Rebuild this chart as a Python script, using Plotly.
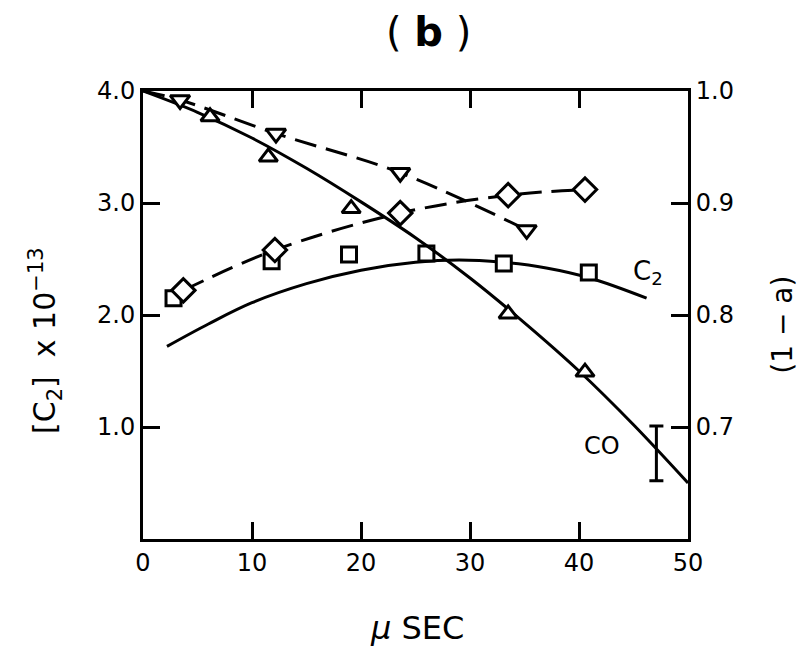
import plotly.graph_objects as go

# ---- data ----
# C2 concentration (left axis, units of 1e13)
c2_sq_x = [2.8, 11.8, 18.9, 26.0, 33.1, 40.9]
c2_sq_y = [2.15, 2.48, 2.54, 2.55, 2.46, 2.38]
c2_fit_x = [2.2, 6.0, 10.0, 15.0, 20.0, 25.0, 29.0, 33.0, 37.0, 41.0, 46.2]
c2_fit_y = [1.72, 1.92, 2.11, 2.28, 2.40, 2.47, 2.49, 2.47, 2.42, 2.33, 2.15]
dia_x = [3.7, 12.1, 23.6, 33.5, 40.55]
dia_y = [2.22, 2.58, 2.91, 3.07, 3.12]

# (1 - a) (right axis)
tri_up_x = [6.15, 11.5, 19.1, 33.5, 40.55]
tri_up_y = [0.977, 0.941, 0.895, 0.801, 0.749]
tri_dn_x = [3.4, 12.2, 23.6, 35.2]
tri_dn_y = [0.992, 0.962, 0.927, 0.876]
tri_dn_line_x = [0.0, 3.4, 12.2, 23.6, 35.2]
tri_dn_line_y = [1.0, 0.992, 0.962, 0.927, 0.876]
co_fit_x = [0, 5, 10, 15, 20, 25, 30, 35, 40, 45, 50]
co_fit_y = [1.0, 0.981, 0.958, 0.931, 0.901, 0.869, 0.833, 0.793, 0.750, 0.702, 0.650]
err_x = [47.1]
err_y = [0.6765]
err_half = [0.0245]

x_ticks = [0, 10, 20, 30, 40, 50]
y_ticks = [1.0, 2.0, 3.0, 4.0]
y2_ticks = [0.7, 0.8, 0.9, 1.0]

FONT = "DejaVu Sans"
BLACK = "black"
DASH = "22px,10px"


def hollow(symbol, size):
    return dict(symbol=symbol, size=size, color="white", line=dict(width=3, color=BLACK))


fig = go.Figure()

# solid C2 fit
fig.add_trace(go.Scatter(x=c2_fit_x, y=c2_fit_y, mode="lines",
                         line=dict(color=BLACK, width=3, shape="spline"), showlegend=False))
# CO (1-a) on right axis
fig.add_trace(go.Scatter(x=co_fit_x, y=co_fit_y, mode="lines", yaxis="y2",
                         line=dict(color=BLACK, width=3, shape="spline"), showlegend=False))
# dashed through diamonds
fig.add_trace(go.Scatter(x=dia_x, y=dia_y, mode="lines",
                         line=dict(color=BLACK, width=3, dash=DASH, shape="spline"), showlegend=False))
fig.add_trace(go.Scatter(x=tri_dn_line_x, y=tri_dn_line_y, mode="lines", yaxis="y2",
                         line=dict(color=BLACK, width=3, dash=DASH, shape="spline"), showlegend=False))

fig.add_trace(go.Scatter(x=c2_sq_x, y=c2_sq_y, mode="markers",
                         marker=hollow("square", 15), showlegend=False))
fig.add_trace(go.Scatter(x=dia_x, y=dia_y, mode="markers",
                         marker=hollow("diamond", 18), showlegend=False))
fig.add_trace(go.Scatter(x=tri_dn_x, y=tri_dn_y, mode="markers", yaxis="y2",
                         marker=hollow("triangle-down", 17), showlegend=False))
fig.add_trace(go.Scatter(x=tri_up_x, y=tri_up_y, mode="markers", yaxis="y2",
                         marker=hollow("triangle-up", 16), showlegend=False))
fig.add_trace(go.Scatter(x=err_x, y=err_y, mode="markers", yaxis="y2",
                         marker=dict(size=1, color="rgba(0,0,0,0)"),
                         error_y=dict(type="data", array=err_half, color=BLACK, thickness=3, width=7),
                         showlegend=False))

axis_common = dict(showgrid=False, zeroline=False, showline=True, linecolor=BLACK, linewidth=3,
                   ticks="inside", ticklen=17, tickwidth=3, tickcolor=BLACK,
                   tickfont=dict(family=FONT, size=24, color=BLACK))

fig.update_layout(
    width=800, height=652,
    margin=dict(l=143, r=112, t=91, b=113),
    paper_bgcolor="white", plot_bgcolor="white",
    xaxis=dict(range=[0, 50], tickvals=x_ticks, ticktext=[str(v) for v in x_ticks],
               mirror="ticks", **axis_common),
    yaxis=dict(range=[0, 4], tickvals=y_ticks, ticktext=[f"{v:.1f}" for v in y_ticks],
               mirror="ticks", **axis_common),
    yaxis2=dict(range=[0.6, 1.0], tickvals=y2_ticks, ticktext=[f"{v:.1f}" for v in y2_ticks],
                overlaying="y", side="right", **axis_common),
    showlegend=False,
)

ann_font = dict(family=FONT, color=BLACK)
fig.add_annotation(text="(\u00a0<b>b</b>\u00a0)", xref="paper", yref="paper", x=0.523, y=1.1317,
                   showarrow=False, font=dict(size=40, **ann_font), xanchor="center", yanchor="middle")
fig.add_annotation(text="<i>μ</i> SEC", xref="paper", yref="paper", x=0.503, y=-0.199,
                   showarrow=False, font=dict(size=32, **ann_font), xanchor="center", yanchor="middle")
fig.add_annotation(text="[C<sub>2</sub>]\u00a0\u00a0x\u00a010<sup>\u221213</sup>", xref="paper", yref="paper",
                   x=-0.18, y=0.444, textangle=-90,
                   showarrow=False, font=dict(size=30, **ann_font), xanchor="center", yanchor="middle")
fig.add_annotation(text="(1\u00a0\u2212\u00a0a)", xref="paper", yref="paper", x=1.174, y=0.478, textangle=-90,
                   showarrow=False, font=dict(size=28, **ann_font), xanchor="center", yanchor="middle")
fig.add_annotation(text="C<sub>2</sub>", x=46.3, y=2.38, xref="x", yref="y",
                   showarrow=False, font=dict(size=26, **ann_font), xanchor="center", yanchor="middle")
fig.add_annotation(text="CO", x=42.1, y=0.83, xref="x", yref="y",
                   showarrow=False, font=dict(size=24, **ann_font), xanchor="center", yanchor="middle")

fig.write_html("out.html")
